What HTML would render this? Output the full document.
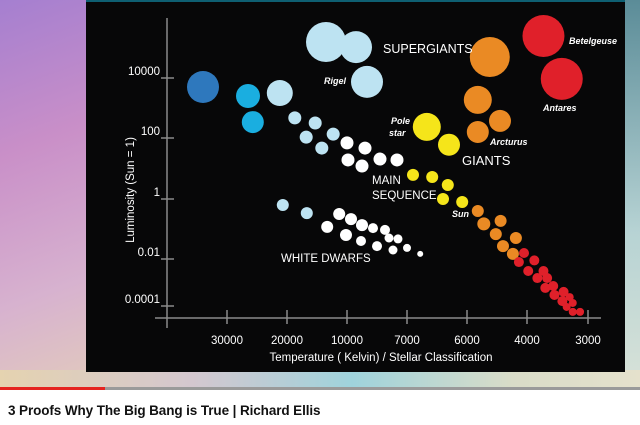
<!DOCTYPE html>
<html><head><meta charset="utf-8">
<style>
html,body{margin:0;padding:0;width:640px;height:425px;overflow:hidden;background:#fff;font-family:"Liberation Sans",sans-serif}
#bg{position:absolute;left:0;top:0;width:640px;height:388px;background:linear-gradient(160deg,#a57fd0 0%,#c98fc8 25%,#d7b2cf 50%,#e6d3b6 75%,#e8e0c8 100%)}
#bgr{position:absolute;left:600px;top:0;width:40px;height:388px;background:linear-gradient(180deg,#5b8c98,#b7d3d4 60%,#d8e2d8)}
#bgb{position:absolute;left:0;top:370px;width:640px;height:18px;background:linear-gradient(90deg,#e5d3b0,#d4c7cf 30%,#9fd3dc 55%,#d9dcc8 80%,#e5e1cc)}
#panel{position:absolute;left:86px;top:0;width:539px;height:372px;background:#070708;border-top:2px solid #0e5f72;box-sizing:border-box}
#prog{position:absolute;left:0;top:387px;width:640px;height:3px;background:#9a9a9a}
#progr{position:absolute;left:0;top:387px;width:105px;height:3px;background:#e52420}
#title{position:absolute;left:8px;top:403px;font-size:13.5px;color:#111;font-weight:bold;letter-spacing:-0.1px}
svg{position:absolute;left:0;top:0}
</style></head><body>
<div id="bg"></div>
<div id="bgr"></div>
<div id="bgb"></div>
<div id="panel"></div>
<div id="prog"></div>
<div id="progr"></div>
<div id="title">3 Proofs Why The Big Bang is True | Richard Ellis</div>
<svg id="chart" width="640" height="425"></svg>
<script>
const xTickTemps=[30000,20000,10000,7000,6000,4000,3000];
const xTickLabels=["30000","20000","10000","7000","6000","4000","3000"];
const yTickLogs=[4,2,0,-2,-4];
const yTickLabels=["10000","100","1","0.01","0.0001"];
// star temperatures (K)
const starTemp=[34000,26500,25700,21200,13500,9550,9000,5240,5640,4900,5640,3730,3430,6670,6300,
18700,15300,16800,12300,14200,10000,9100,9950,9250,8350,7500,
6900,6580,6320,6400,6080,
5640,5440,4880,5040,4370,4800,4470,
4100,4270,3880,3980,3730,3830,3670,3570,3700,3550,3400,3300,3420,3250,3350,3250,3130,
20700,16700,11300,9800,13300,9250,8700,8100,10170,9300,7900,7450,8500,7700,7000,6780];
// log10 luminosity (Sun = 1)
const starLogLum=[3.7,3.4,2.53,3.5,5.2,5.03,3.87,4.7,3.27,2.57,2.2,5.4,3.97,2.37,1.78,
2.67,2.5,2.03,2.13,1.67,1.84,1.67,1.28,1.08,1.31,1.28,
0.79,0.72,0.46,0,-0.1,
-0.4,-0.83,-0.73,-1.17,-1.3,-1.57,-1.83,
-1.8,-2.13,-2.06,-2.51,-2.51,-2.81,-2.81,-3.15,-3.23,-3.53,-3.4,-3.62,-3.79,-3.87,-4.04,-4.25,-4.25,
-0.2,-0.47,-0.5,-0.67,-0.93,-0.87,-0.97,-1.03,-1.2,-1.4,-1.3,-1.33,-1.57,-1.7,-1.63,-1.83];
const starRadius=[16,12,11,13,20,16,16,20,14,11,11,21,21,14,11,
6.5,6.5,6.5,6.5,6.5,6.5,6.5,6.5,6.5,6.5,6.5,
6,6,6,6,6,
6,6.5,6,6,6,6,6,
5,5,5,5,5,5,5,5,5,5,5,4,5,4,4,4,4,
6,6,6,6,6,6,5,5,6,5,4.5,4.5,5,4.5,4,3];
const starType=["db","c","c","lb","lb","lb","lb","o","o","o","o","r","r","y","y",
"lb","lb","lb","lb","lb","w","w","w","w","w","w",
"y","y","y","y","y",
"o","o","o","o","o","o","o",
"r","r","r","r","r","r","r","r","r","r","r","r","r","r","r","r","r",
"lb","lb","w","w","w","w","w","w","w","w","w","w","w","w","w","w"];
const colors={db:"#2e78bd",c:"#1aaee0",lb:"#bde3f2",w:"#ffffff",y:"#f5e51a",o:"#ea8a24",r:"#e0202a"};
const xTickPx=[227,287,347,407,467,527,588];
const yTickPx=[78,138,199,259,306];
function xScale(t){
  for(let i=0;i<xTickTemps.length-1;i++){
    const a=xTickTemps[i],b=xTickTemps[i+1];
    if((t<=a&&t>=b)||(i==0&&t>a)||(i==xTickTemps.length-2)){
      return xTickPx[i]+(a-t)/(a-b)*(xTickPx[i+1]-xTickPx[i]);
    }
  }
}
function yScale(l){
  for(let i=0;i<yTickLogs.length-1;i++){
    const a=yTickLogs[i],b=yTickLogs[i+1];
    if((l<=a&&l>=b)||(i==0&&l>a)||(i==yTickLogs.length-2)){
      return yTickPx[i]+(a-l)/(a-b)*(yTickPx[i+1]-yTickPx[i]);
    }
  }
}
const NS="http://www.w3.org/2000/svg";
const svg=document.getElementById('chart');
function mk(tag,attrs,parent){const e=document.createElementNS(NS,tag);for(const k in attrs)e.setAttribute(k,attrs[k]);(parent||svg).appendChild(e);return e;}
// axes
let ya=mk('line',{x1:167,y1:18,x2:167,y2:328,stroke:'#8a8a8a','stroke-width':1.5});


let xa=mk('line',{x1:155,y1:318,x2:601,y2:318,stroke:'#8a8a8a','stroke-width':1.5});


yTickLogs.forEach((v,i)=>{
  const y=yScale(v);
  let t=mk('line',{x1:161,y1:y,x2:174,y2:y,stroke:'#8a8a8a','stroke-width':1.5});
  
  
  let tx=mk('text',{x:160,y:y-3,'text-anchor':'end','font-size':11.5,fill:'#fff','font-family':'Liberation Sans, sans-serif'});
  tx.textContent=yTickLabels[i];
  
  
});
xTickTemps.forEach((v,i)=>{
  const x=xScale(v);
  let t=mk('line',{x1:x,y1:310,x2:x,y2:324,stroke:'#8a8a8a','stroke-width':1.5});
  
  
  let tx=mk('text',{x:x,y:344,'text-anchor':'middle','font-size':11.5,fill:'#fff','font-family':'Liberation Sans, sans-serif'});
  tx.textContent=xTickLabels[i];
  
  
});
// stars
starTemp.forEach((t,i)=>{
  let c=mk('circle',{cx:xScale(t),cy:yScale(starLogLum[i]),r:starRadius[i],fill:colors[starType[i]]});
  
  
});
// labels
function lbl(txt,x,y,size,italic,name,anchor){
  let e=mk('text',{x:x,y:y,'font-size':size,fill:'#fff','font-family':'Liberation Sans, sans-serif','font-weight':italic?'bold':'normal','font-style':italic?'italic':'normal','text-anchor':anchor||'start'});
  e.textContent=txt;
  
  
}
lbl("SUPERGIANTS",383,53,12.5,false,'supergiants-label');
lbl("Rigel",324,84,9,true,'rigel-label');
lbl("Betelgeuse",569,44,9,true,'betelgeuse-label');
lbl("Antares",543,111,9,true,'antares-label');
lbl("Pole",391,124,9,true,'pole-star-label');
lbl("star",389,136,9,true,'pole-star-label-2');
lbl("Arcturus",490,145,9,true,'arcturus-label');
lbl("GIANTS",462,165,13,false,'giants-label');
lbl("MAIN",372,184,11.5,false,'main-sequence-label');
lbl("SEQUENCE",372,199,11.5,false,'main-sequence-label-2');
lbl("Sun",452,217,9,true,'sun-label');
lbl("WHITE DWARFS",281,262,11.5,false,'white-dwarfs-label');
lbl("Temperature ( Kelvin) / Stellar Classification",381,361,11.5,false,'x-axis-title','middle');
let yt=mk('text',{x:0,y:0,'font-size':11.5,fill:'#fff','font-family':'Liberation Sans, sans-serif','text-anchor':'middle',transform:'translate(134,190) rotate(-90)'});
yt.textContent="Luminosity (Sun = 1)";


</script>
</body></html>
